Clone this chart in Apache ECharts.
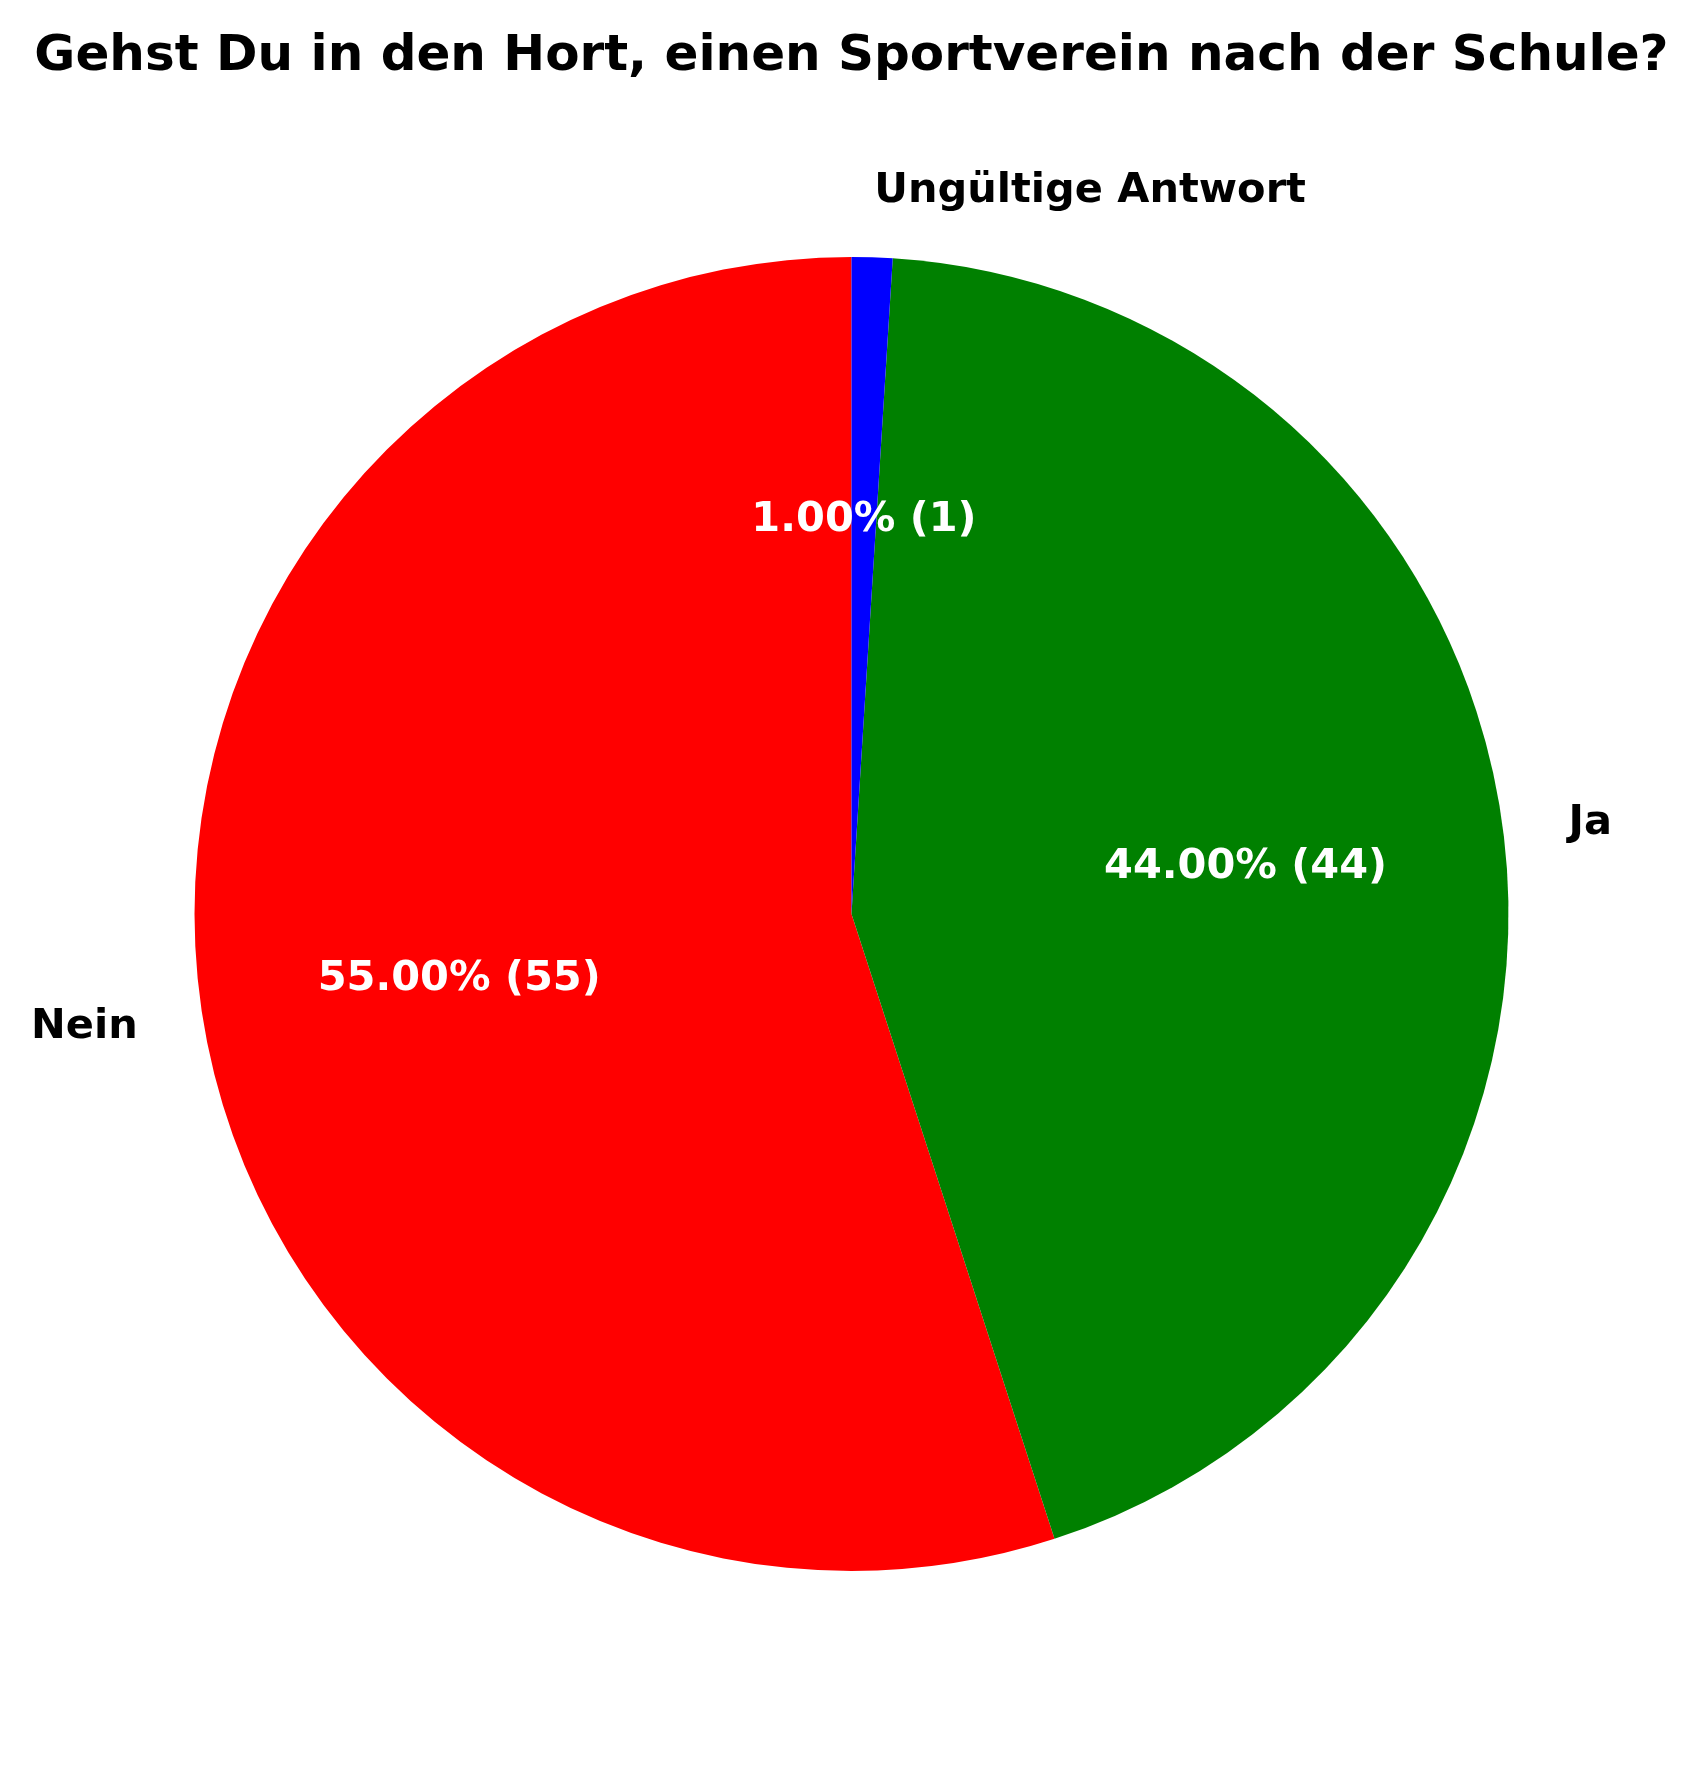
<!DOCTYPE html>
<html>
<head>
<meta charset="utf-8">
<title>Gehst Du in den Hort</title>
<script src="https://cdn.jsdelivr.net/npm/echarts@6/dist/echarts.min.js"></script>
<style>
    html, body { margin: 0; padding: 0; background: #fff; }
    #chart { width: 1703px; height: 1766px; }
</style>
</head>
<body>
<div id="chart"></div>
<script>
    // Daten
    var categories = ['Nein', 'Ja', 'Ungültige Antwort'];
    var counts = [55, 44, 1];
    var colors = ['#ff0000', '#008000', '#0000ff'];

    var total = counts.reduce(function (a, b) { return a + b; }, 0);
    var R = 657;
    var fontFam = 'DejaVu Sans';

    var pieData = categories.map(function (name, i) {
        return { name: name, value: counts[i], itemStyle: { color: colors[i] } };
    });

    var myChart = echarts.init(document.getElementById('chart'));

    var option = {
        backgroundColor: '#ffffff',
        animation: false,
        title: {
            text: 'Gehst Du in den Hort, einen Sportverein nach der Schule?',
            left: 'center',
            top: 32,
            padding: 0,
            textStyle: {
                fontFamily: fontFam,
                fontWeight: 'bold',
                fontSize: 50,
                color: '#000'
            }
        },
        series: [
            {
                // Segmente + Namen aussen (1.1 r)
                type: 'pie',
                center: [851.5, 914],
                radius: [0, R],
                startAngle: 90,
                clockwise: false,
                avoidLabelOverlap: false,
                silent: true,
                emphasis: { disabled: true },
                itemStyle: { borderWidth: 0 },
                label: {
                    show: true,
                    position: 'outside',
                    distanceToLabelLine: 0,
                    fontFamily: fontFam,
                    fontWeight: 'bold',
                    fontSize: 41.5,
                    color: '#000',
                    formatter: '{b}'
                },
                labelLine: { show: false, length: R * 0.1, length2: 0 },
                data: pieData
            },
            {
                // Prozentangaben innen (0.6 r)
                type: 'pie',
                center: [851.5, 914],
                radius: [R * 0.2, R],
                startAngle: 90,
                clockwise: false,
                avoidLabelOverlap: false,
                silent: true,
                emphasis: { disabled: true },
                itemStyle: { color: 'rgba(0,0,0,0)', borderWidth: 0 },
                label: {
                    show: true,
                    position: 'inside',
                    offset: [0, 3],
                    fontFamily: fontFam,
                    fontWeight: 'bold',
                    fontSize: 41.5,
                    color: '#fff',
                    formatter: function (p) {
                        return (p.value / total * 100).toFixed(2) + '% (' + p.value + ')';
                    }
                },
                labelLine: { show: false },
                data: categories.map(function (name, i) {
                    return { name: name, value: counts[i] };
                })
            }
        ]
    };

    myChart.setOption(option);
</script>
</body>
</html>
